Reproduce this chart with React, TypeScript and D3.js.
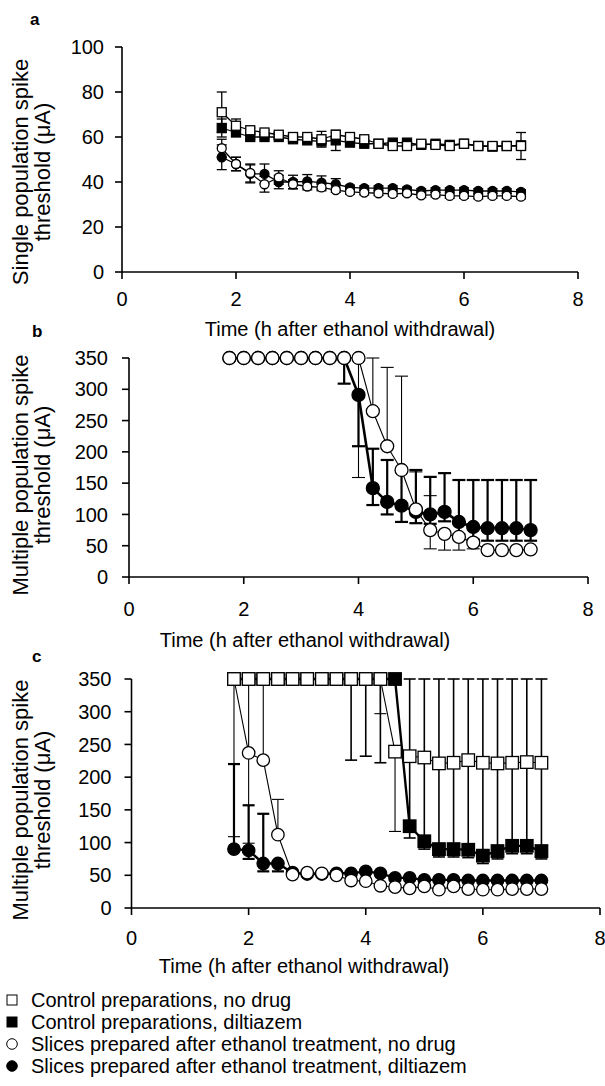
import React from 'react';
import * as d3 from 'd3';

// ---------- data ----------
const times = [1.75, 2, 2.25, 2.5, 2.75, 3, 3.25, 3.5, 3.75, 4, 4.25, 4.5, 4.75, 5, 5.25, 5.5, 5.75, 6, 6.25, 6.5, 6.75, 7];
const xTickValues = [0, 2, 4, 6, 8];
const aYTicks = [0, 20, 40, 60, 80, 100];
const bcYTicks = [0, 50, 100, 150, 200, 250, 300, 350];

const xTitle = 'Time (h after ethanol withdrawal)';
const aYTitle = ['Single population spike', 'threshold (\u03bcA)'];
const bcYTitle = ['Multiple population spike', 'threshold (\u03bcA)'];

const legendLabels = [
  'Control preparations, no drug',
  'Control preparations, diltiazem',
  'Slices prepared after ethanol treatment, no drug',
  'Slices prepared after ethanol treatment, diltiazem',
];

// panel a (single population spike threshold, µA) – symmetric errors
const aCtrlNoDrug = [71, 65, 63, 62, 61, 60, 60, 59, 61, 60, 59, 57, 56, 56, 57, 56.5, 56, 57, 56, 56, 56, 56];
const aCtrlNoDrugErr = [9, 3, 1, 1, 1, 1, 1, 3.5, 1, 1, 1, 1, 1, 1, 1, 1, 1, 1, 1, 1, 1, 6];
const aCtrlDilt = [64, 62, 60, 60, 60, 59, 58.5, 58, 58.5, 57.5, 57, 57, 57.5, 57.5, 56.5, 57, 56.5, 57, 56, 55.7, 56, 56.3];
const aCtrlDiltErr = [4, 1.5, 1, 1, 1, 1, 1, 1, 4.5, 1, 1, 1, 1, 1, 1, 1, 1, 1, 1, 1, 1, 1];
const aEtohNoDrug = [55, 48, 44, 39, 42, 39, 38, 37.6, 36.4, 35.6, 35.3, 35, 34.7, 35, 34.1, 34.4, 33.8, 33.8, 33.5, 33.8, 33.8, 33.5];
const aEtohNoDrugErr = [4, 3, 4, 3.5, 3, 2, 1.5, 1.5, 1, 1, 1, 1, 1, 1, 1, 1, 1, 1, 1, 1, 1, 1];
const aEtohDilt = [51, 48, 43.6, 43.6, 40, 40, 40.3, 39.7, 39, 37.6, 37.3, 37.3, 37.3, 36.7, 36, 36.4, 36.4, 36.4, 36, 36, 36, 35.6];
const aEtohDiltErr = [5.5, 3, 4, 4.4, 3, 3, 3, 3, 2.5, 1, 1, 1, 1, 1, 1, 1, 1, 1, 1, 1, 1, 1];

// panel b (multiple population spike threshold, µA)
const bEtohNoDrug = [350, 350, 350, 350, 350, 350, 350, 350, 350, 350, 265, 209, 171, 108, 75, 69, 64, 55, 43, 43, 43, 44];
const bEtohNoDrugUp = [0, 0, 0, 0, 0, 0, 0, 0, 0, 0, 85, 126, 150, 60, 55, 0, 0, 0, 0, 0, 0, 0];
const bEtohNoDrugDown = [0, 0, 0, 0, 0, 0, 0, 0, 0, 191, 0, 0, 0, 0, 30, 26, 21, 10, 0, 0, 0, 0];
const bEtohDilt = [350, 350, 350, 350, 350, 350, 350, 350, 350, 291, 142, 120, 114, 104, 100, 104, 88, 80, 78, 78, 78, 75];
const bEtohDiltUp = [0, 0, 0, 0, 0, 0, 0, 0, 0, 0, 63, 67, 57, 67, 60, 62, 67, 75, 77, 77, 77, 80];
const bEtohDiltDown = [0, 0, 0, 0, 0, 0, 0, 0, 41, 82, 27, 20, 26, 18, 15, 15, 20, 20, 20, 20, 20, 17];

// panel c (multiple population spike threshold, µA)
const cCtrlNoDrug = [350, 350, 350, 350, 350, 350, 350, 350, 350, 350, 350, 239, 232, 230, 221, 222, 226, 222, 221, 222, 223, 222];
const cCtrlNoDrugUp = [0, 0, 0, 0, 0, 0, 0, 0, 0, 0, 0, 0, 0, 0, 0, 0, 0, 0, 0, 0, 0, 0];
const cCtrlNoDrugDown = [0, 0, 0, 0, 0, 0, 0, 0, 0, 0, 53, 122, 0, 0, 0, 0, 0, 0, 0, 0, 0, 0];
const cCtrlDilt = [350, 350, 350, 350, 350, 350, 350, 350, 350, 350, 350, 350, 125, 102, 90, 90, 89, 80, 87, 95, 95, 87];
const cCtrlDiltUp = [0, 0, 0, 0, 0, 0, 0, 0, 0, 0, 0, 0, 225, 248, 260, 260, 261, 270, 263, 255, 255, 263];
const cCtrlDiltDown = [0, 0, 0, 0, 0, 0, 0, 0, 124, 118, 128, 0, 18, 12, 12, 12, 12, 12, 12, 12, 12, 12];
const cEtohNoDrug = [350, 237, 226, 112, 51, 54, 53, 50, 42, 41, 34, 32, 30, 33, 28, 33, 29, 28, 28, 29, 29, 29];
const cEtohNoDrugUp = [0, 113, 124, 54, 0, 0, 0, 0, 0, 0, 0, 0, 0, 0, 0, 0, 0, 0, 0, 0, 0, 0];
const cEtohNoDrugDown = [241, 138, 0, 0, 0, 0, 0, 0, 0, 0, 0, 0, 0, 0, 0, 0, 0, 0, 0, 0, 0, 0];
const cEtohDilt = [90, 88, 68, 68, 54, 52, 52, 53, 53, 56, 53, 46, 46, 43, 43, 43, 42, 42, 42, 42, 42, 42];
const cEtohDiltUp = [130, 69, 76, 0, 0, 0, 0, 0, 0, 0, 0, 0, 0, 0, 0, 0, 0, 0, 0, 0, 0, 0];
const cEtohDiltDown = [0, 13, 12, 12, 0, 0, 0, 0, 0, 0, 0, 0, 0, 0, 0, 0, 0, 0, 0, 0, 0, 0];

// ---------- drawing ----------
const FONT = '"Liberation Sans", Arial, Helvetica, sans-serif';

type Series = {
  shape: 'square' | 'circle';
  filled: boolean;
  values: number[];
  up: number[];
  down: number[];
  lineW: number;
  errW: number;
};

type PanelProps = {
  letter: string;
  letterPos: [number, number];
  xRange: [number, number];
  yMax: number;
  yRange: [number, number];
  yTicks: number[];
  series: Series[];
  size: number;
  cap: number;
  yTitle: string[];
  yTitleX: [number, number];
  yTitleCY: number;
  yLabelRight: number;
  xLabelBase: number;
  xTitleX: number;
  xTitleBase: number;
};

function Marker({ shape, filled, cx, cy, size }: { shape: string; filled: boolean; cx: number; cy: number; size: number }) {
  const fill = filled ? '#000' : '#fff';
  if (shape === 'square') {
    return <rect x={cx - size / 2} y={cy - size / 2} width={size} height={size} fill={fill} stroke="#000" strokeWidth={1.3} />;
  }
  return <circle cx={cx} cy={cy} r={size / 2} fill={fill} stroke="#000" strokeWidth={1.3} />;
}

function Panel(p: PanelProps) {
  const x = d3.scaleLinear().domain([0, 8]).range(p.xRange);
  const y = d3.scaleLinear().domain([0, p.yMax]).range(p.yRange);
  const line = d3
    .line<number>()
    .x((_, i) => x(times[i]))
    .y((d) => y(d));
  const x0 = x(0);
  const y0 = y(0);
  // series are given in drawing order (bottom first)
  const ordered = p.series;

  return (
    <g>
      <text x={p.letterPos[0]} y={p.letterPos[1]} fontFamily={FONT} fontWeight="bold" fontSize={17}>
        {p.letter}
      </text>
      {p.yTitle.map((t, i) => (
        <text
          key={i}
          transform={`translate(${p.yTitleX[i]},${p.yTitleCY}) rotate(-90)`}
          textAnchor="middle"
          fontFamily={FONT}
          fontSize={22}
        >
          {t}
        </text>
      ))}
      <line x1={x0} x2={x0} y1={y0} y2={y(p.yMax)} stroke="#000" strokeWidth={1.6} />
      <line x1={x0} x2={x(8)} y1={y0} y2={y0} stroke="#000" strokeWidth={1.6} />
      {p.yTicks.map((t) => (
        <g key={'y' + t}>
          <line x1={x0 - 7} x2={x0} y1={y(t)} y2={y(t)} stroke="#000" strokeWidth={1.6} />
          <text x={p.yLabelRight} y={y(t)} dy="0.36em" textAnchor="end" fontFamily={FONT} fontSize={20}>
            {t}
          </text>
        </g>
      ))}
      {xTickValues.map((t) => (
        <g key={'x' + t}>
          <line x1={x(t)} x2={x(t)} y1={y0} y2={y0 + 7} stroke="#000" strokeWidth={1.6} />
          <text x={x(t)} y={p.xLabelBase} textAnchor="middle" fontFamily={FONT} fontSize={20}>
            {t}
          </text>
        </g>
      ))}
      <text x={p.xTitleX} y={p.xTitleBase} textAnchor="middle" fontFamily={FONT} fontSize={20}>
        {xTitle}
      </text>
      {ordered.map((s, si) =>
        s.values.map((v, i) => {
          const cx = x(times[i]);
          const parts = [];
          if (s.up[i] > 0) {
            const yt = y(v + s.up[i]);
            parts.push(<line key={'u' + i} x1={cx} x2={cx} y1={y(v)} y2={yt} stroke="#000" strokeWidth={s.errW} />);
            parts.push(<line key={'uc' + i} x1={cx - p.cap / 2} x2={cx + p.cap / 2} y1={yt} y2={yt} stroke="#000" strokeWidth={s.errW} />);
          }
          if (s.down[i] > 0) {
            const yb = y(v - s.down[i]);
            parts.push(<line key={'d' + i} x1={cx} x2={cx} y1={y(v)} y2={yb} stroke="#000" strokeWidth={s.errW} />);
            parts.push(<line key={'dc' + i} x1={cx - p.cap / 2} x2={cx + p.cap / 2} y1={yb} y2={yb} stroke="#000" strokeWidth={s.errW} />);
          }
          return <g key={'e' + si + '-' + i}>{parts}</g>;
        })
      )}
      {ordered.map((s, si) => (
        <path key={'l' + si} d={line(s.values) || ''} fill="none" stroke="#000" strokeWidth={s.lineW} strokeLinejoin="round" />
      ))}
      {ordered.map((s, si) =>
        s.values.map((v, i) => (
          <Marker key={'m' + si + '-' + i} shape={s.shape} filled={s.filled} cx={x(times[i])} cy={y(v)} size={p.size} />
        ))
      )}
    </g>
  );
}

export default function App() {
  const aSeries: Series[] = [
    { shape: 'square', filled: true, values: aCtrlDilt, up: aCtrlDiltErr, down: aCtrlDiltErr, lineW: 1.3, errW: 1.3 },
    { shape: 'circle', filled: true, values: aEtohDilt, up: aEtohDiltErr, down: aEtohDiltErr, lineW: 1.3, errW: 1.3 },
    { shape: 'circle', filled: false, values: aEtohNoDrug, up: aEtohNoDrugErr, down: aEtohNoDrugErr, lineW: 1.3, errW: 1.3 },
    { shape: 'square', filled: false, values: aCtrlNoDrug, up: aCtrlNoDrugErr, down: aCtrlNoDrugErr, lineW: 1.3, errW: 1.3 },
  ];
  const bSeries: Series[] = [
    { shape: 'circle', filled: true, values: bEtohDilt, up: bEtohDiltUp, down: bEtohDiltDown, lineW: 2.6, errW: 2.2 },
    { shape: 'circle', filled: false, values: bEtohNoDrug, up: bEtohNoDrugUp, down: bEtohNoDrugDown, lineW: 1.1, errW: 1.1 },
  ];
  const cSeries: Series[] = [
    { shape: 'square', filled: true, values: cCtrlDilt, up: cCtrlDiltUp, down: cCtrlDiltDown, lineW: 2.4, errW: 1.6 },
    { shape: 'circle', filled: true, values: cEtohDilt, up: cEtohDiltUp, down: cEtohDiltDown, lineW: 2.4, errW: 2.2 },
    { shape: 'circle', filled: false, values: cEtohNoDrug, up: cEtohNoDrugUp, down: cEtohNoDrugDown, lineW: 1.1, errW: 1.1 },
    { shape: 'square', filled: false, values: cCtrlNoDrug, up: cCtrlNoDrugUp, down: cCtrlNoDrugDown, lineW: 1.1, errW: 1.1 },
  ];
  const legendShapes: [string, boolean][] = [
    ['square', false],
    ['square', true],
    ['circle', false],
    ['circle', true],
  ];

  return (
    <svg
      width={605}
      height={1086}
      viewBox="0 0 605 1086"
      style={{ position: 'absolute', left: 0, top: 0, background: '#fff' }}
    >
      <rect width={605} height={1086} fill="#fff" />
      <Panel
        letter="a"
        letterPos={[30, 25]}
        xRange={[122, 578]}
        yMax={100}
        yRange={[272, 47]}
        yTicks={aYTicks}
        series={aSeries}
        size={9}
        cap={10}
        yTitle={aYTitle}
        yTitleX={[28, 50]}
        yTitleCY={172}
        yLabelRight={104}
        xLabelBase={306}
        xTitleX={350}
        xTitleBase={336}
      />
      <Panel
        letter="b"
        letterPos={[32, 337]}
        xRange={[129, 588]}
        yMax={350}
        yRange={[577, 358]}
        yTicks={bcYTicks}
        series={bSeries}
        size={13}
        cap={13}
        yTitle={bcYTitle}
        yTitleX={[28, 50]}
        yTitleCY={475}
        yLabelRight={108}
        xLabelBase={616}
        xTitleX={305}
        xTitleBase={647}
      />
      <Panel
        letter="c"
        letterPos={[32, 662]}
        xRange={[131.5, 600]}
        yMax={350}
        yRange={[908, 679]}
        yTicks={bcYTicks}
        series={cSeries}
        size={12.5}
        cap={12}
        yTitle={bcYTitle}
        yTitleX={[28, 50]}
        yTitleCY={800}
        yLabelRight={111.5}
        xLabelBase={945}
        xTitleX={304}
        xTitleBase={972.5}
      />
      {legendLabels.map((t, i) => {
        const cy = 1000 + i * 22;
        const [shape, filled] = legendShapes[i];
        return (
          <g key={'lg' + i}>
            {shape === 'square' ? (
              <rect x={7} y={cy - 5} width={10} height={10} fill={filled ? '#000' : '#fff'} stroke="#000" strokeWidth={1} />
            ) : (
              <circle cx={12} cy={cy} r={5.3} fill={filled ? '#000' : '#fff'} stroke="#000" strokeWidth={1} />
            )}
            <text x={31} y={cy + 7} fontFamily={FONT} fontSize={20}>
              {t}
            </text>
          </g>
        );
      })}
    </svg>
  );
}
